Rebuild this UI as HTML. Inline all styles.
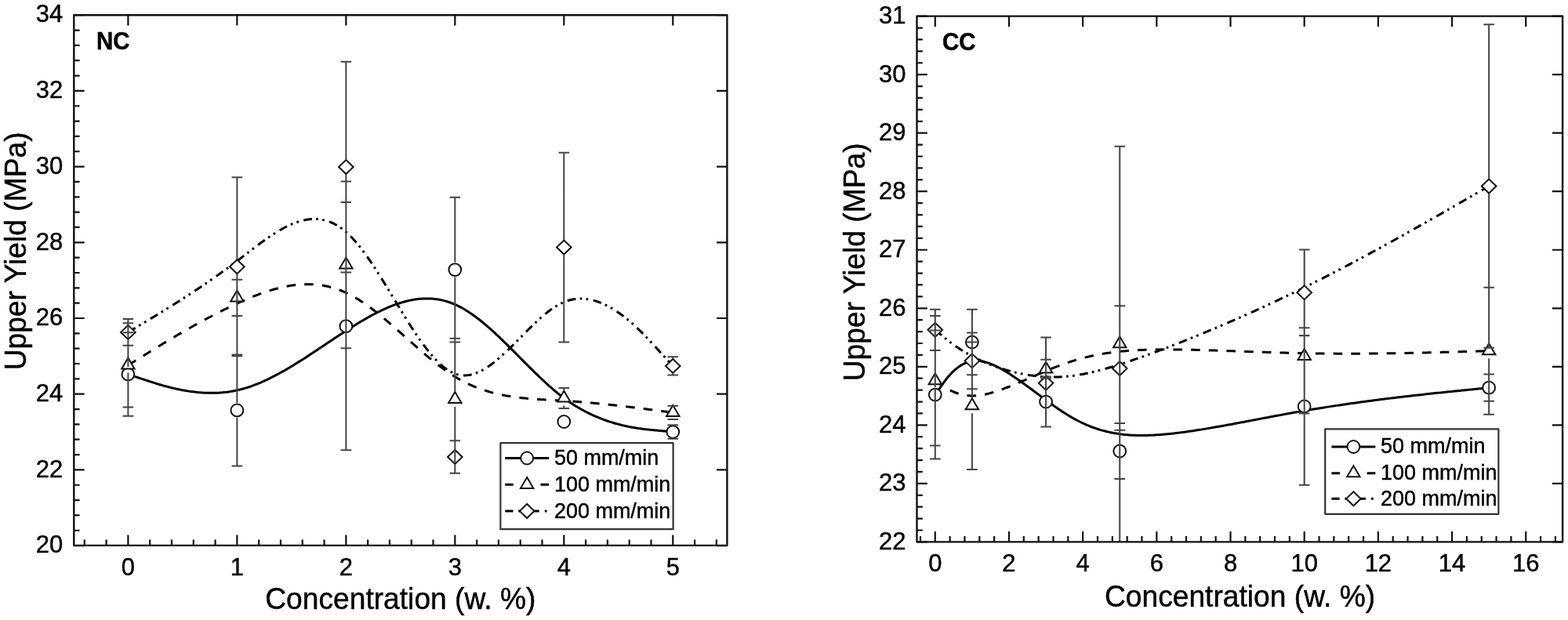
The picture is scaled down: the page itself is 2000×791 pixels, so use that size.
<!DOCTYPE html>
<html><head><meta charset="utf-8"><title>Upper Yield vs Concentration</title>
<style>
html,body{margin:0;padding:0;background:#fff;}
body{width:2000px;height:791px;overflow:hidden;}
svg{display:block;}
text{font-family:"Liberation Sans",Arial,Helvetica,sans-serif;fill:#000;stroke:#000;stroke-width:0.45px;}
.tk{font-size:31px;}
.ti{font-size:37.2px;}
.lg{font-size:27px;}
.pl{font-size:29.5px;font-weight:bold;}
.mk{fill:#fff;stroke:#111;stroke-width:2;stroke-linejoin:miter;}
</style></head><body>
<svg width="2000" height="791" viewBox="0 0 2000 791">
<rect width="2000" height="791" fill="#fff"/>
<polyline points="163.4,477.56 163.4,477.56 163.4,477.56 163.4,477.56 163.4,477.56 163.41,477.56 163.41,477.56 163.42,477.57 163.43,477.57 163.45,477.57 163.46,477.58 163.49,477.59 163.51,477.59 163.54,477.6 163.58,477.62 163.62,477.63 163.66,477.64 163.71,477.66 163.77,477.68 163.84,477.7 163.91,477.73 163.99,477.75 164.08,477.78 164.18,477.82 164.28,477.85 164.4,477.89 164.52,477.93 164.66,477.97 164.8,478.02 164.96,478.07 165.13,478.13 165.3,478.19 165.5,478.25 165.7,478.32 165.91,478.39 166.14,478.46 166.38,478.54 166.64,478.63 166.91,478.72 167.19,478.81 167.49,478.91 167.81,479.01 168.14,479.12 168.48,479.24 168.85,479.36 169.23,479.48 169.62,479.62 170.04,479.75 170.47,479.9 170.92,480.04 171.39,480.2 171.88,480.36 172.39,480.53 172.92,480.7 173.47,480.89 174.04,481.07 174.63,481.27 175.24,481.47 175.88,481.68 176.53,481.9 177.21,482.12 177.91,482.35 178.64,482.59 179.39,482.84 180.16,483.1 180.96,483.36 181.78,483.63 182.63,483.91 183.51,484.2 184.41,484.5 185.33,484.81 186.29,485.12 187.27,485.45 188.27,485.78 189.31,486.12 190.37,486.47 191.46,486.82 192.57,487.18 193.71,487.55 194.87,487.93 196.05,488.3 197.26,488.69 198.5,489.07 199.76,489.46 201.04,489.85 202.34,490.25 203.66,490.64 205.01,491.04 206.38,491.43 207.77,491.83 209.18,492.22 210.61,492.62 212.06,493.01 213.52,493.4 215.01,493.79 216.52,494.17 218.04,494.55 219.58,494.93 221.14,495.3 222.72,495.66 224.32,496.02 225.93,496.37 227.55,496.72 229.19,497.05 230.85,497.38 232.52,497.7 234.21,498.01 235.91,498.31 237.62,498.6 239.35,498.88 241.09,499.14 242.84,499.4 244.6,499.64 246.38,499.86 248.17,500.08 249.97,500.28 251.78,500.46 253.59,500.63 255.42,500.78 257.26,500.92 259.11,501.04 260.97,501.14 262.83,501.22 264.7,501.29 266.58,501.33 268.47,501.35 270.36,501.36 272.26,501.34 274.17,501.3 276.08,501.24 278,501.16 279.92,501.05 281.85,500.92 283.78,500.77 285.71,500.59 287.65,500.38 289.59,500.15 291.53,499.89 293.47,499.61 295.42,499.3 297.37,498.95 299.32,498.59 301.27,498.19 303.22,497.76 305.17,497.3 307.11,496.81 309.06,496.3 311.01,495.75 312.96,495.18 314.91,494.58 316.86,493.95 318.81,493.3 320.76,492.62 322.71,491.91 324.66,491.18 326.61,490.43 328.56,489.65 330.51,488.85 332.46,488.03 334.41,487.18 336.36,486.32 338.31,485.43 340.26,484.52 342.21,483.59 344.16,482.65 346.11,481.68 348.06,480.69 350.01,479.69 351.96,478.67 353.91,477.63 355.86,476.58 357.8,475.51 359.75,474.42 361.7,473.32 363.65,472.21 365.6,471.08 367.55,469.94 369.5,468.78 371.45,467.62 373.4,466.44 375.35,465.25 377.3,464.05 379.25,462.84 381.2,461.62 383.15,460.39 385.1,459.15 387.05,457.9 389,456.65 390.95,455.39 392.9,454.12 394.85,452.85 396.8,451.57 398.75,450.29 400.7,449 402.65,447.71 404.6,446.41 406.55,445.12 408.49,443.82 410.44,442.51 412.39,441.21 414.34,439.91 416.29,438.6 418.24,437.3 420.19,435.99 422.14,434.69 424.09,433.39 426.04,432.09 427.99,430.8 429.94,429.51 431.89,428.22 433.84,426.94 435.79,425.66 437.74,424.38 439.69,423.12 441.64,421.86 443.59,420.6 445.54,419.36 447.49,418.12 449.44,416.89 451.39,415.67 453.34,414.46 455.29,413.27 457.24,412.08 459.19,410.9 461.13,409.74 463.08,408.59 465.03,407.46 466.98,406.34 468.93,405.24 470.88,404.15 472.83,403.08 474.78,402.02 476.73,400.99 478.68,399.97 480.63,398.97 482.58,397.99 484.53,397.03 486.48,396.09 488.43,395.18 490.38,394.28 492.33,393.41 494.28,392.57 496.23,391.74 498.18,390.95 500.13,390.17 502.08,389.43 504.03,388.71 505.98,388.01 507.93,387.35 509.88,386.71 511.82,386.11 513.77,385.53 515.72,384.99 517.67,384.47 519.62,383.99 521.57,383.54 523.52,383.12 525.47,382.74 527.42,382.39 529.37,382.08 531.32,381.8 533.27,381.56 535.22,381.35 537.17,381.19 539.12,381.06 541.07,380.97 543.02,380.92 544.97,380.91 546.92,380.94 548.87,381.01 550.82,381.12 552.77,381.28 554.72,381.48 556.67,381.72 558.62,382.01 560.57,382.35 562.51,382.73 564.46,383.15 566.41,383.62 568.36,384.15 570.31,384.72 572.26,385.33 574.21,386 576.16,386.72 578.11,387.49 580.06,388.31 582.01,389.18 583.96,390.11 585.91,391.08 587.86,392.11 589.81,393.18 591.76,394.29 593.71,395.46 595.66,396.66 597.61,397.91 599.56,399.2 601.51,400.53 603.46,401.9 605.41,403.31 607.36,404.75 609.31,406.23 611.26,407.74 613.21,409.29 615.15,410.87 617.1,412.47 619.05,414.11 621,415.77 622.95,417.47 624.9,419.18 626.85,420.92 628.8,422.69 630.75,424.47 632.7,426.28 634.65,428.1 636.6,429.94 638.55,431.8 640.5,433.68 642.45,435.57 644.4,437.47 646.35,439.38 648.3,441.31 650.25,443.24 652.2,445.18 654.15,447.13 656.1,449.09 658.05,451.05 660,453.01 661.95,454.97 663.9,456.94 665.84,458.9 667.79,460.86 669.74,462.82 671.69,464.78 673.64,466.73 675.59,468.67 677.54,470.61 679.49,472.53 681.44,474.45 683.39,476.35 685.34,478.24 687.29,480.12 689.24,481.98 691.19,483.83 693.14,485.66 695.09,487.46 697.04,489.25 698.99,491.02 700.94,492.76 702.89,494.48 704.84,496.18 706.79,497.85 708.74,499.49 710.69,501.1 712.64,502.68 714.59,504.23 716.53,505.75 718.48,507.23 720.43,508.68 722.38,510.09 724.33,511.47 726.28,512.82 728.23,514.13 730.17,515.41 732.11,516.65 734.05,517.86 735.99,519.04 737.92,520.19 739.85,521.3 741.78,522.39 743.7,523.45 745.62,524.47 747.53,525.47 749.44,526.44 751.34,527.38 753.23,528.29 755.12,529.17 757,530.03 758.87,530.86 760.73,531.66 762.59,532.44 764.44,533.2 766.28,533.92 768.11,534.63 769.92,535.31 771.73,535.97 773.53,536.6 775.32,537.22 777.1,537.81 778.86,538.38 780.61,538.93 782.35,539.45 784.08,539.96 785.79,540.45 787.49,540.92 789.18,541.37 790.85,541.8 792.51,542.22 794.15,542.61 795.77,542.99 797.38,543.36 798.98,543.71 800.56,544.04 802.12,544.36 803.66,544.66 805.18,544.95 806.69,545.23 808.18,545.49 809.64,545.74 811.09,545.98 812.52,546.2 813.93,546.42 815.32,546.62 816.69,546.82 818.04,547 819.36,547.18 820.66,547.34 821.94,547.5 823.2,547.65 824.44,547.79 825.65,547.93 826.83,548.06 827.99,548.18 829.13,548.29 830.24,548.41 831.33,548.51 832.39,548.61 833.43,548.71 834.43,548.81 835.41,548.9 836.37,548.99 837.29,549.08 838.19,549.16 839.07,549.24 839.92,549.32 840.74,549.4 841.54,549.48 842.31,549.55 843.06,549.62 843.79,549.69 844.49,549.75 845.17,549.82 845.82,549.88 846.46,549.94 847.07,550 847.66,550.05 848.23,550.1 848.78,550.16 849.31,550.21 849.82,550.25 850.31,550.3 850.78,550.34 851.23,550.39 851.66,550.43 852.08,550.47 852.47,550.5 852.85,550.54 853.22,550.57 853.56,550.61 853.89,550.64 854.21,550.67 854.51,550.69 854.79,550.72 855.06,550.75 855.32,550.77 855.56,550.79 855.79,550.81 856,550.83 856.2,550.85 856.4,550.87 856.57,550.89 856.74,550.9 856.9,550.92 857.04,550.93 857.18,550.94 857.3,550.96 857.42,550.97 857.52,550.98 857.62,550.99 857.71,550.99 857.79,551 857.86,551.01 857.93,551.01 857.99,551.02 858.04,551.03 858.08,551.03 858.12,551.03 858.16,551.04 858.19,551.04 858.21,551.04 858.24,551.04 858.25,551.05 858.27,551.05 858.28,551.05 858.29,551.05 858.29,551.05 858.3,551.05 858.3,551.05 858.3,551.05 858.3,551.05 858.3,551.05" fill="none" stroke="#000" stroke-width="3"/>
<polyline points="163.4,465.95 163.4,465.95 163.4,465.95 163.4,465.95 163.4,465.95 163.41,465.95 163.41,465.95 163.42,465.94 163.43,465.93 163.45,465.93 163.46,465.91 163.49,465.9 163.51,465.89 163.54,465.87 163.58,465.85 163.62,465.82 163.66,465.79 163.71,465.76 163.77,465.72 163.84,465.68 163.91,465.64 163.99,465.59 164.08,465.53 164.18,465.47 164.28,465.41 164.4,465.34 164.52,465.26 164.66,465.17 164.8,465.08 164.96,464.99 165.13,464.88 165.3,464.77 165.5,464.66 165.7,464.53 165.91,464.4 166.14,464.26 166.38,464.11 166.64,463.95 166.91,463.78 167.19,463.61 167.49,463.42 167.81,463.22 168.14,463.02 168.48,462.81 168.85,462.58 169.23,462.35 169.62,462.1 170.04,461.84 170.47,461.57 170.92,461.3 171.39,461 171.88,460.7 172.39,460.39 172.92,460.06 173.47,459.72 174.04,459.37 174.63,459 175.24,458.62 175.88,458.23 176.53,457.82 177.21,457.4 177.91,456.97 178.64,456.52 179.39,456.05 180.16,455.57 180.96,455.08 181.78,454.57 182.63,454.04 183.51,453.5 184.41,452.95 185.33,452.37 186.29,451.78 187.27,451.17 188.27,450.55 189.31,449.91 190.37,449.25 191.46,448.58 192.57,447.9 193.71,447.19 194.87,446.48 196.05,445.75 197.26,445 198.5,444.24 199.76,443.47 201.04,442.69 202.34,441.89 203.66,441.09 205.01,440.27 206.38,439.43 207.77,438.59 209.18,437.74 210.61,436.88 212.06,436 213.52,435.12 215.01,434.23 216.52,433.33 218.04,432.42 219.58,431.51 221.14,430.58 222.72,429.65 224.32,428.71 225.93,427.77 227.55,426.81 229.19,425.86 230.85,424.89 232.52,423.93 234.21,422.95 235.91,421.98 237.62,420.99 239.35,420.01 241.09,419.02 242.84,418.03 244.6,417.03 246.38,416.04 248.17,415.04 249.97,414.04 251.78,413.04 253.59,412.04 255.42,411.03 257.26,410.03 259.11,409.03 260.97,408.02 262.83,407.02 264.7,406.02 266.58,405.02 268.47,404.03 270.36,403.03 272.26,402.04 274.17,401.05 276.08,400.07 278,399.09 279.92,398.11 281.85,397.14 283.78,396.17 285.71,395.21 287.65,394.25 289.59,393.3 291.53,392.36 293.47,391.42 295.42,390.49 297.37,389.56 299.32,388.65 301.27,387.74 303.22,386.84 305.17,385.95 307.11,385.07 309.06,384.2 311.01,383.34 312.96,382.49 314.91,381.65 316.86,380.82 318.81,380 320.76,379.2 322.71,378.41 324.66,377.64 326.61,376.87 328.56,376.13 330.51,375.39 332.46,374.68 334.41,373.97 336.36,373.29 338.31,372.62 340.26,371.97 342.21,371.34 344.16,370.72 346.11,370.13 348.06,369.55 350.01,368.99 351.96,368.45 353.91,367.94 355.86,367.44 357.8,366.97 359.75,366.52 361.7,366.09 363.65,365.68 365.6,365.3 367.55,364.94 369.5,364.6 371.45,364.29 373.4,364.01 375.35,363.75 377.3,363.51 379.25,363.31 381.2,363.13 383.15,362.97 385.1,362.85 387.05,362.76 389,362.69 390.95,362.65 392.9,362.65 394.85,362.67 396.8,362.72 398.75,362.81 400.7,362.93 402.65,363.08 404.6,363.26 406.55,363.48 408.49,363.72 410.44,364.01 412.39,364.33 414.34,364.68 416.29,365.07 418.24,365.49 420.19,365.96 422.14,366.45 424.09,366.99 426.04,367.56 427.99,368.18 429.94,368.83 431.89,369.52 433.84,370.25 435.79,371.02 437.74,371.83 439.69,372.68 441.64,373.57 443.59,374.51 445.54,375.49 447.49,376.5 449.44,377.56 451.39,378.65 453.34,379.78 455.29,380.94 457.24,382.14 459.19,383.38 461.13,384.64 463.08,385.94 465.03,387.26 466.98,388.62 468.93,390 470.88,391.41 472.83,392.85 474.78,394.31 476.73,395.79 478.68,397.3 480.63,398.83 482.58,400.38 484.53,401.95 486.48,403.53 488.43,405.14 490.38,406.76 492.33,408.4 494.28,410.05 496.23,411.71 498.18,413.39 500.13,415.07 502.08,416.77 504.03,418.47 505.98,420.19 507.93,421.9 509.88,423.63 511.82,425.36 513.77,427.09 515.72,428.83 517.67,430.56 519.62,432.3 521.57,434.04 523.52,435.77 525.47,437.5 527.42,439.23 529.37,440.95 531.32,442.67 533.27,444.38 535.22,446.08 537.17,447.77 539.12,449.45 541.07,451.12 543.02,452.78 544.97,454.42 546.92,456.05 548.87,457.66 550.82,459.26 552.77,460.83 554.72,462.39 556.67,463.93 558.62,465.45 560.57,466.95 562.51,468.42 564.46,469.87 566.41,471.29 568.36,472.69 570.31,474.05 572.26,475.4 574.21,476.71 576.16,477.99 578.11,479.23 580.06,480.45 582.01,481.63 583.96,482.78 585.91,483.89 587.86,484.98 589.81,486.03 591.76,487.05 593.71,488.03 595.66,488.99 597.61,489.92 599.56,490.82 601.51,491.69 603.46,492.53 605.41,493.34 607.36,494.13 609.31,494.89 611.26,495.62 613.21,496.33 615.15,497.01 617.1,497.67 619.05,498.3 621,498.91 622.95,499.5 624.9,500.07 626.85,500.61 628.8,501.13 630.75,501.63 632.7,502.12 634.65,502.58 636.6,503.02 638.55,503.44 640.5,503.85 642.45,504.23 644.4,504.6 646.35,504.96 648.3,505.3 650.25,505.62 652.2,505.93 654.15,506.22 656.1,506.5 658.05,506.76 660,507.02 661.95,507.26 663.9,507.49 665.84,507.7 667.79,507.91 669.74,508.11 671.69,508.29 673.64,508.47 675.59,508.64 677.54,508.8 679.49,508.95 681.44,509.1 683.39,509.24 685.34,509.38 687.29,509.51 689.24,509.63 691.19,509.75 693.14,509.87 695.09,509.98 697.04,510.09 698.99,510.2 700.94,510.3 702.89,510.41 704.84,510.51 706.79,510.62 708.74,510.72 710.69,510.83 712.64,510.93 714.59,511.04 716.53,511.16 718.48,511.27 720.43,511.39 722.38,511.51 724.33,511.64 726.28,511.77 728.23,511.9 730.17,512.04 732.11,512.18 734.05,512.33 735.99,512.47 737.92,512.62 739.85,512.77 741.78,512.93 743.7,513.09 745.62,513.25 747.53,513.41 749.44,513.58 751.34,513.75 753.23,513.91 755.12,514.09 757,514.26 758.87,514.44 760.73,514.61 762.59,514.79 764.44,514.97 766.28,515.16 768.11,515.34 769.92,515.52 771.73,515.71 773.53,515.9 775.32,516.08 777.1,516.27 778.86,516.46 780.61,516.65 782.35,516.84 784.08,517.03 785.79,517.22 787.49,517.41 789.18,517.6 790.85,517.79 792.51,517.98 794.15,518.18 795.77,518.36 797.38,518.55 798.98,518.74 800.56,518.93 802.12,519.12 803.66,519.31 805.18,519.49 806.69,519.68 808.18,519.86 809.64,520.04 811.09,520.22 812.52,520.4 813.93,520.58 815.32,520.75 816.69,520.93 818.04,521.1 819.36,521.27 820.66,521.43 821.94,521.6 823.2,521.76 824.44,521.92 825.65,522.08 826.83,522.24 827.99,522.39 829.13,522.54 830.24,522.68 831.33,522.83 832.39,522.97 833.43,523.1 834.43,523.24 835.41,523.37 836.37,523.49 837.29,523.61 838.19,523.73 839.07,523.85 839.92,523.96 840.74,524.07 841.54,524.18 842.31,524.28 843.06,524.38 843.79,524.47 844.49,524.57 845.17,524.66 845.82,524.74 846.46,524.83 847.07,524.91 847.66,524.99 848.23,525.06 848.78,525.13 849.31,525.2 849.82,525.27 850.31,525.33 850.78,525.4 851.23,525.46 851.66,525.51 852.08,525.57 852.47,525.62 852.85,525.67 853.22,525.72 853.56,525.77 853.89,525.81 854.21,525.85 854.51,525.89 854.79,525.93 855.06,525.96 855.32,526 855.56,526.03 855.79,526.06 856,526.09 856.2,526.11 856.4,526.14 856.57,526.16 856.74,526.19 856.9,526.21 857.04,526.23 857.18,526.24 857.3,526.26 857.42,526.27 857.52,526.29 857.62,526.3 857.71,526.31 857.79,526.32 857.86,526.33 857.93,526.34 857.99,526.35 858.04,526.36 858.08,526.36 858.12,526.37 858.16,526.37 858.19,526.38 858.21,526.38 858.24,526.38 858.25,526.39 858.27,526.39 858.28,526.39 858.29,526.39 858.29,526.39 858.3,526.39 858.3,526.39 858.3,526.39 858.3,526.39 858.3,526.39" fill="none" stroke="#000" stroke-width="3" stroke-dasharray="11.6 11.1"/>
<polyline points="163.4,423.89 163.4,423.89 163.4,423.89 163.4,423.89 163.4,423.89 163.41,423.88 163.41,423.88 163.42,423.88 163.43,423.87 163.45,423.86 163.46,423.85 163.49,423.84 163.51,423.82 163.54,423.8 163.58,423.78 163.62,423.76 163.66,423.73 163.71,423.7 163.77,423.67 163.84,423.63 163.91,423.58 163.99,423.53 164.08,423.48 164.18,423.42 164.28,423.36 164.4,423.29 164.52,423.21 164.66,423.13 164.8,423.04 164.96,422.95 165.13,422.85 165.3,422.74 165.5,422.63 165.7,422.51 165.91,422.38 166.14,422.24 166.38,422.09 166.64,421.94 166.91,421.78 167.19,421.61 167.49,421.43 167.81,421.24 168.14,421.04 168.48,420.83 168.85,420.61 169.23,420.38 169.62,420.14 170.04,419.89 170.47,419.63 170.92,419.36 171.39,419.08 171.88,418.78 172.39,418.48 172.92,418.16 173.47,417.83 174.04,417.49 174.63,417.13 175.24,416.76 175.88,416.38 176.53,415.99 177.21,415.58 177.91,415.15 178.64,414.72 179.39,414.27 180.16,413.8 180.96,413.32 181.78,412.83 182.63,412.31 183.51,411.79 184.41,411.25 185.33,410.69 186.29,410.12 187.27,409.53 188.27,408.92 189.31,408.3 190.37,407.66 191.46,407 192.57,406.33 193.71,405.64 194.87,404.94 196.05,404.22 197.26,403.49 198.5,402.74 199.76,401.98 201.04,401.2 202.34,400.4 203.66,399.59 205.01,398.77 206.38,397.93 207.77,397.08 209.18,396.21 210.61,395.33 212.06,394.43 213.52,393.52 215.01,392.59 216.52,391.65 218.04,390.7 219.58,389.73 221.14,388.75 222.72,387.76 224.32,386.75 225.93,385.73 227.55,384.7 229.19,383.65 230.85,382.59 232.52,381.52 234.21,380.44 235.91,379.34 237.62,378.23 239.35,377.11 241.09,375.97 242.84,374.82 244.6,373.67 246.38,372.49 248.17,371.31 249.97,370.12 251.78,368.91 253.59,367.69 255.42,366.46 257.26,365.22 259.11,363.97 260.97,362.71 262.83,361.44 264.7,360.15 266.58,358.86 268.47,357.55 270.36,356.23 272.26,354.91 274.17,353.57 276.08,352.22 278,350.87 279.92,349.5 281.85,348.12 283.78,346.74 285.71,345.34 287.65,343.93 289.59,342.52 291.53,341.09 293.47,339.66 295.42,338.22 297.37,336.76 299.32,335.3 301.27,333.84 303.22,332.36 305.17,330.87 307.11,329.38 309.06,327.88 311.01,326.38 312.96,324.88 314.91,323.38 316.86,321.87 318.81,320.37 320.76,318.88 322.71,317.39 324.66,315.91 326.61,314.43 328.56,312.97 330.51,311.51 332.46,310.07 334.41,308.65 336.36,307.24 338.31,305.85 340.26,304.47 342.21,303.12 344.16,301.79 346.11,300.48 348.06,299.2 350.01,297.94 351.96,296.71 353.91,295.51 355.86,294.35 357.8,293.21 359.75,292.11 361.7,291.04 363.65,290.01 365.6,289.02 367.55,288.07 369.5,287.16 371.45,286.29 373.4,285.47 375.35,284.69 377.3,283.96 379.25,283.28 381.2,282.65 383.15,282.07 385.1,281.54 387.05,281.07 389,280.66 390.95,280.3 392.9,280 394.85,279.77 396.8,279.59 398.75,279.48 400.7,279.43 402.65,279.45 404.6,279.54 406.55,279.7 408.49,279.93 410.44,280.23 412.39,280.61 414.34,281.06 416.29,281.59 418.24,282.2 420.19,282.89 422.14,283.66 424.09,284.51 426.04,285.45 427.99,286.47 429.94,287.58 431.89,288.78 433.84,290.07 435.79,291.45 437.74,292.93 439.69,294.5 441.64,296.17 443.59,297.93 445.54,299.79 447.49,301.74 449.44,303.78 451.39,305.9 453.34,308.11 455.29,310.39 457.24,312.75 459.19,315.18 461.13,317.68 463.08,320.24 465.03,322.87 466.98,325.56 468.93,328.31 470.88,331.1 472.83,333.95 474.78,336.85 476.73,339.79 478.68,342.77 480.63,345.79 482.58,348.85 484.53,351.93 486.48,355.05 488.43,358.19 490.38,361.35 492.33,364.53 494.28,367.73 496.23,370.94 498.18,374.16 500.13,377.38 502.08,380.61 504.03,383.84 505.98,387.07 507.93,390.29 509.88,393.5 511.82,396.7 513.77,399.88 515.72,403.05 517.67,406.19 519.62,409.31 521.57,412.4 523.52,415.46 525.47,418.49 527.42,421.48 529.37,424.43 531.32,427.33 533.27,430.19 535.22,433 537.17,435.76 539.12,438.46 541.07,441.1 543.02,443.67 544.97,446.19 546.92,448.63 548.87,451 550.82,453.3 552.77,455.52 554.72,457.66 556.67,459.71 558.62,461.68 560.57,463.55 562.51,465.34 564.46,467.02 566.41,468.61 568.36,470.09 570.31,471.47 572.26,472.73 574.21,473.89 576.16,474.93 578.11,475.85 580.06,476.65 582.01,477.32 583.96,477.87 585.91,478.31 587.86,478.62 589.81,478.82 591.76,478.91 593.71,478.89 595.66,478.77 597.61,478.54 599.56,478.21 601.51,477.79 603.46,477.27 605.41,476.66 607.36,475.97 609.31,475.19 611.26,474.32 613.21,473.38 615.15,472.36 617.1,471.27 619.05,470.11 621,468.88 622.95,467.58 624.9,466.23 626.85,464.81 628.8,463.34 630.75,461.82 632.7,460.25 634.65,458.63 636.6,456.96 638.55,455.25 640.5,453.51 642.45,451.73 644.4,449.92 646.35,448.07 648.3,446.21 650.25,444.31 652.2,442.4 654.15,440.47 656.1,438.52 658.05,436.56 660,434.59 661.95,432.62 663.9,430.64 665.84,428.66 667.79,426.69 669.74,424.72 671.69,422.76 673.64,420.81 675.59,418.87 677.54,416.95 679.49,415.05 681.44,413.17 683.39,411.32 685.34,409.5 687.29,407.71 689.24,405.95 691.19,404.23 693.14,402.55 695.09,400.92 697.04,399.33 698.99,397.79 700.94,396.3 702.89,394.87 704.84,393.49 706.79,392.18 708.74,390.93 710.69,389.74 712.64,388.63 714.59,387.58 716.53,386.62 718.48,385.73 720.43,384.92 722.38,384.19 724.33,383.55 726.28,382.98 728.23,382.49 730.17,382.07 732.11,381.73 734.05,381.46 735.99,381.26 737.92,381.12 739.85,381.06 741.78,381.06 743.7,381.13 745.62,381.26 747.53,381.45 749.44,381.7 751.34,382 753.23,382.37 755.12,382.78 757,383.26 758.87,383.78 760.73,384.35 762.59,384.97 764.44,385.64 766.28,386.35 768.11,387.11 769.92,387.91 771.73,388.75 773.53,389.63 775.32,390.55 777.1,391.5 778.86,392.49 780.61,393.5 782.35,394.56 784.08,395.64 785.79,396.74 787.49,397.88 789.18,399.04 790.85,400.22 792.51,401.42 794.15,402.65 795.77,403.89 797.38,405.15 798.98,406.43 800.56,407.72 802.12,409.02 803.66,410.33 805.18,411.65 806.69,412.98 808.18,414.31 809.64,415.65 811.09,416.99 812.52,418.34 813.93,419.68 815.32,421.02 816.69,422.36 818.04,423.69 819.36,425.02 820.66,426.33 821.94,427.64 823.2,428.94 824.44,430.22 825.65,431.49 826.83,432.74 827.99,433.98 829.13,435.2 830.24,436.39 831.33,437.56 832.39,438.71 833.43,439.84 834.43,440.93 835.41,442 836.37,443.04 837.29,444.05 838.19,445.03 839.07,445.98 839.92,446.9 840.74,447.8 841.54,448.67 842.31,449.51 843.06,450.33 843.79,451.12 844.49,451.88 845.17,452.62 845.82,453.34 846.46,454.03 847.07,454.69 847.66,455.34 848.23,455.96 848.78,456.56 849.31,457.13 849.82,457.68 850.31,458.22 850.78,458.73 851.23,459.22 851.66,459.69 852.08,460.14 852.47,460.58 852.85,460.99 853.22,461.39 853.56,461.76 853.89,462.12 854.21,462.46 854.51,462.79 854.79,463.1 855.06,463.39 855.32,463.67 855.56,463.94 855.79,464.18 856,464.42 856.2,464.64 856.4,464.85 856.57,465.04 856.74,465.22 856.9,465.39 857.04,465.55 857.18,465.7 857.3,465.83 857.42,465.96 857.52,466.07 857.62,466.18 857.71,466.28 857.79,466.36 857.86,466.44 857.93,466.51 857.99,466.58 858.04,466.64 858.08,466.69 858.12,466.73 858.16,466.77 858.19,466.8 858.21,466.83 858.24,466.85 858.25,466.87 858.27,466.89 858.28,466.9 858.29,466.91 858.29,466.91 858.3,466.92 858.3,466.92 858.3,466.92 858.3,466.92 858.3,466.92" fill="none" stroke="#000" stroke-width="3" stroke-dasharray="10.8 5.3 2.7 5.3 2.7 6.5"/>
<polyline points="1192.8,503.58 1192.8,503.58 1192.8,503.58 1192.8,503.58 1192.8,503.58 1192.8,503.58 1192.8,503.58 1192.81,503.57 1192.81,503.57 1192.82,503.56 1192.82,503.55 1192.83,503.54 1192.84,503.53 1192.85,503.52 1192.86,503.5 1192.87,503.48 1192.89,503.46 1192.91,503.43 1192.93,503.4 1192.95,503.37 1192.97,503.34 1193,503.3 1193.03,503.26 1193.06,503.21 1193.1,503.16 1193.14,503.1 1193.18,503.04 1193.23,502.98 1193.28,502.91 1193.33,502.83 1193.38,502.75 1193.45,502.67 1193.51,502.57 1193.58,502.48 1193.65,502.37 1193.73,502.26 1193.81,502.14 1193.9,502.02 1193.99,501.89 1194.09,501.75 1194.19,501.61 1194.29,501.46 1194.41,501.3 1194.52,501.13 1194.65,500.96 1194.77,500.77 1194.91,500.58 1195.05,500.38 1195.2,500.17 1195.35,499.95 1195.51,499.73 1195.67,499.49 1195.85,499.25 1196.03,498.99 1196.21,498.72 1196.4,498.45 1196.6,498.16 1196.81,497.87 1197.03,497.56 1197.25,497.25 1197.48,496.92 1197.72,496.58 1197.96,496.23 1198.22,495.87 1198.48,495.49 1198.75,495.11 1199.03,494.71 1199.32,494.3 1199.61,493.88 1199.92,493.45 1200.23,493 1200.55,492.54 1200.89,492.07 1201.23,491.58 1201.58,491.08 1201.94,490.57 1202.31,490.05 1202.69,489.52 1203.07,488.98 1203.47,488.43 1203.88,487.87 1204.29,487.3 1204.72,486.73 1205.15,486.14 1205.6,485.55 1206.05,484.96 1206.51,484.36 1206.98,483.76 1207.46,483.15 1207.95,482.54 1208.45,481.92 1208.96,481.31 1209.48,480.69 1210.01,480.07 1210.54,479.45 1211.09,478.83 1211.64,478.21 1212.21,477.59 1212.78,476.97 1213.36,476.36 1213.95,475.74 1214.55,475.13 1215.16,474.53 1215.78,473.93 1216.41,473.34 1217.05,472.75 1217.7,472.16 1218.35,471.59 1219.02,471.02 1219.7,470.46 1220.38,469.91 1221.07,469.37 1221.78,468.84 1222.49,468.31 1223.21,467.8 1223.94,467.3 1224.68,466.82 1225.43,466.34 1226.19,465.88 1226.96,465.43 1227.73,465 1228.52,464.58 1229.32,464.18 1230.12,463.8 1230.93,463.43 1231.76,463.08 1232.59,462.74 1233.43,462.43 1234.28,462.13 1235.14,461.86 1236.01,461.6 1236.89,461.37 1237.78,461.15 1238.68,460.96 1239.59,460.79 1240.5,460.65 1241.43,460.53 1242.36,460.43 1243.31,460.36 1244.26,460.31 1245.22,460.29 1246.19,460.29 1247.17,460.33 1248.16,460.39 1249.16,460.48 1250.17,460.59 1251.19,460.73 1252.22,460.9 1253.25,461.1 1254.29,461.32 1255.35,461.57 1256.41,461.84 1257.47,462.14 1258.55,462.46 1259.64,462.81 1260.73,463.17 1261.83,463.56 1262.93,463.98 1264.05,464.41 1265.17,464.87 1266.3,465.35 1267.44,465.85 1268.58,466.36 1269.73,466.9 1270.89,467.46 1272.05,468.04 1273.22,468.63 1274.39,469.24 1275.57,469.88 1276.76,470.52 1277.96,471.19 1279.15,471.87 1280.36,472.57 1281.57,473.28 1282.78,474.01 1284,474.75 1285.23,475.5 1286.46,476.27 1287.7,477.06 1288.94,477.85 1290.18,478.66 1291.43,479.48 1292.68,480.32 1293.94,481.16 1295.2,482.01 1296.47,482.88 1297.73,483.75 1299.01,484.64 1300.28,485.53 1301.56,486.43 1302.85,487.34 1304.13,488.26 1305.42,489.18 1306.71,490.11 1308.01,491.05 1309.3,492 1310.6,492.94 1311.9,493.9 1313.21,494.86 1314.51,495.82 1315.82,496.79 1317.13,497.76 1318.44,498.73 1319.75,499.71 1321.07,500.69 1322.38,501.67 1323.7,502.65 1325.02,503.63 1326.34,504.61 1327.66,505.6 1328.98,506.58 1330.3,507.56 1331.62,508.54 1332.94,509.52 1334.26,510.49 1335.58,511.47 1336.9,512.44 1338.22,513.4 1339.55,514.37 1340.87,515.33 1342.2,516.28 1343.53,517.23 1344.86,518.18 1346.2,519.12 1347.54,520.06 1348.88,520.99 1350.23,521.92 1351.58,522.83 1352.94,523.75 1354.3,524.65 1355.67,525.55 1357.05,526.44 1358.43,527.33 1359.82,528.2 1361.21,529.07 1362.62,529.93 1364.03,530.78 1365.45,531.62 1366.88,532.45 1368.32,533.27 1369.77,534.09 1371.23,534.89 1372.7,535.68 1374.18,536.46 1375.67,537.23 1377.18,537.99 1378.69,538.73 1380.22,539.47 1381.77,540.19 1383.32,540.9 1384.89,541.59 1386.47,542.27 1388.07,542.94 1389.68,543.6 1391.31,544.24 1392.95,544.87 1394.61,545.48 1396.29,546.08 1397.98,546.66 1399.69,547.22 1401.42,547.77 1403.16,548.31 1404.93,548.83 1406.71,549.33 1408.51,549.81 1410.33,550.28 1412.17,550.73 1414.04,551.16 1415.92,551.57 1417.82,551.96 1419.75,552.34 1421.69,552.69 1423.66,553.03 1425.65,553.35 1427.67,553.64 1429.71,553.92 1431.77,554.18 1433.85,554.41 1435.97,554.62 1438.1,554.82 1440.26,554.99 1442.45,555.13 1444.66,555.26 1446.9,555.36 1449.17,555.44 1451.46,555.5 1453.79,555.53 1456.14,555.54 1458.51,555.53 1460.92,555.5 1463.35,555.44 1465.8,555.36 1468.28,555.26 1470.79,555.14 1473.32,555 1475.87,554.84 1478.45,554.66 1481.05,554.46 1483.68,554.24 1486.33,554.01 1489,553.75 1491.69,553.48 1494.41,553.19 1497.14,552.89 1499.9,552.57 1502.68,552.23 1505.47,551.88 1508.29,551.52 1511.13,551.14 1513.98,550.74 1516.86,550.33 1519.75,549.91 1522.66,549.48 1525.58,549.03 1528.53,548.58 1531.49,548.11 1534.46,547.63 1537.46,547.14 1540.46,546.63 1543.48,546.12 1546.52,545.6 1549.57,545.08 1552.64,544.54 1555.72,543.99 1558.81,543.44 1561.91,542.88 1565.03,542.31 1568.16,541.74 1571.3,541.16 1574.45,540.58 1577.61,539.99 1580.78,539.39 1583.96,538.79 1587.15,538.19 1590.35,537.59 1593.56,536.98 1596.78,536.37 1600.01,535.75 1603.24,535.14 1606.48,534.52 1609.73,533.9 1612.98,533.29 1616.24,532.67 1619.5,532.05 1622.77,531.44 1626.05,530.82 1629.33,530.21 1632.61,529.6 1635.9,528.99 1639.19,528.38 1642.48,527.78 1645.78,527.18 1649.08,526.59 1652.38,526 1655.68,525.41 1658.98,524.83 1662.28,524.26 1665.59,523.69 1668.89,523.13 1672.19,522.58 1675.49,522.03 1678.79,521.49 1682.08,520.96 1685.37,520.43 1688.66,519.91 1691.94,519.39 1695.22,518.88 1698.49,518.38 1701.75,517.89 1705.01,517.39 1708.25,516.91 1711.49,516.43 1714.72,515.96 1717.94,515.5 1721.15,515.04 1724.35,514.58 1727.53,514.14 1730.7,513.69 1733.86,513.26 1737.01,512.83 1740.14,512.41 1743.25,511.99 1746.35,511.58 1749.43,511.17 1752.5,510.77 1755.54,510.38 1758.57,509.99 1761.58,509.61 1764.57,509.23 1767.54,508.86 1770.48,508.49 1773.41,508.13 1776.31,507.78 1779.19,507.43 1782.05,507.09 1784.88,506.75 1787.69,506.42 1790.47,506.09 1793.22,505.77 1795.95,505.46 1798.65,505.15 1801.32,504.84 1803.97,504.54 1806.58,504.25 1809.16,503.96 1811.71,503.68 1814.23,503.4 1816.72,503.13 1819.18,502.86 1821.6,502.6 1823.99,502.34 1826.34,502.09 1828.66,501.84 1830.94,501.6 1833.18,501.36 1835.39,501.13 1837.56,500.9 1839.69,500.68 1841.78,500.47 1843.83,500.25 1845.84,500.05 1847.81,499.85 1849.74,499.65 1851.62,499.46 1853.46,499.27 1855.26,499.09 1857.01,498.91 1858.72,498.74 1860.38,498.57 1861.99,498.4 1863.56,498.25 1865.09,498.09 1866.57,497.94 1868.01,497.8 1869.4,497.65 1870.75,497.52 1872.06,497.38 1873.33,497.26 1874.56,497.13 1875.75,497.01 1876.9,496.89 1878.01,496.78 1879.09,496.67 1880.13,496.57 1881.13,496.47 1882.09,496.37 1883.02,496.27 1883.92,496.18 1884.78,496.1 1885.61,496.01 1886.41,495.93 1887.17,495.85 1887.9,495.78 1888.61,495.71 1889.28,495.64 1889.92,495.58 1890.54,495.51 1891.12,495.45 1891.68,495.4 1892.22,495.34 1892.72,495.29 1893.21,495.24 1893.66,495.2 1894.1,495.15 1894.51,495.11 1894.89,495.07 1895.26,495.04 1895.6,495 1895.92,494.97 1896.23,494.94 1896.51,494.91 1896.77,494.88 1897.02,494.86 1897.25,494.83 1897.46,494.81 1897.65,494.79 1897.83,494.77 1898,494.76 1898.15,494.74 1898.28,494.73 1898.41,494.72 1898.52,494.7 1898.62,494.69 1898.71,494.69 1898.78,494.68 1898.85,494.67 1898.91,494.66 1898.96,494.66 1899.01,494.66 1899.04,494.65 1899.07,494.65 1899.09,494.65 1899.11,494.64 1899.13,494.64 1899.14,494.64 1899.14,494.64 1899.15,494.64 1899.15,494.64 1899.15,494.64 1899.15,494.64" fill="none" stroke="#000" stroke-width="3"/>
<polyline points="1192.8,485.7 1192.8,485.7 1192.8,485.7 1192.8,485.7 1192.8,485.7 1192.8,485.7 1192.8,485.7 1192.81,485.7 1192.81,485.7 1192.82,485.71 1192.82,485.71 1192.83,485.72 1192.84,485.72 1192.85,485.73 1192.86,485.74 1192.87,485.75 1192.89,485.76 1192.91,485.77 1192.93,485.78 1192.95,485.8 1192.97,485.82 1193,485.83 1193.03,485.85 1193.06,485.88 1193.1,485.9 1193.14,485.93 1193.18,485.96 1193.23,485.99 1193.28,486.02 1193.33,486.06 1193.38,486.1 1193.45,486.14 1193.51,486.18 1193.58,486.23 1193.65,486.28 1193.73,486.33 1193.81,486.39 1193.9,486.44 1193.99,486.51 1194.09,486.57 1194.19,486.64 1194.29,486.71 1194.41,486.79 1194.52,486.87 1194.65,486.95 1194.77,487.04 1194.91,487.13 1195.05,487.23 1195.2,487.33 1195.35,487.43 1195.51,487.54 1195.67,487.65 1195.85,487.77 1196.03,487.89 1196.21,488.02 1196.4,488.15 1196.6,488.29 1196.81,488.43 1197.03,488.57 1197.25,488.73 1197.48,488.88 1197.72,489.04 1197.96,489.21 1198.22,489.38 1198.48,489.56 1198.75,489.75 1199.03,489.94 1199.32,490.13 1199.61,490.33 1199.92,490.54 1200.23,490.75 1200.55,490.97 1200.89,491.2 1201.23,491.43 1201.58,491.67 1201.94,491.91 1202.31,492.16 1202.69,492.42 1203.07,492.67 1203.47,492.94 1203.88,493.2 1204.29,493.47 1204.72,493.75 1205.15,494.02 1205.6,494.3 1206.05,494.58 1206.51,494.87 1206.98,495.15 1207.46,495.44 1207.95,495.73 1208.45,496.01 1208.96,496.3 1209.48,496.59 1210.01,496.88 1210.54,497.17 1211.09,497.46 1211.64,497.75 1212.21,498.04 1212.78,498.32 1213.36,498.6 1213.95,498.88 1214.55,499.16 1215.16,499.44 1215.78,499.71 1216.41,499.98 1217.05,500.24 1217.7,500.5 1218.35,500.76 1219.02,501.01 1219.7,501.26 1220.38,501.5 1221.07,501.74 1221.78,501.97 1222.49,502.19 1223.21,502.41 1223.94,502.62 1224.68,502.83 1225.43,503.02 1226.19,503.21 1226.96,503.39 1227.73,503.57 1228.52,503.73 1229.32,503.88 1230.12,504.03 1230.93,504.17 1231.76,504.29 1232.59,504.41 1233.43,504.51 1234.28,504.61 1235.14,504.69 1236.01,504.77 1236.89,504.83 1237.78,504.88 1238.68,504.91 1239.59,504.94 1240.5,504.95 1241.43,504.94 1242.36,504.93 1243.31,504.9 1244.26,504.85 1245.22,504.8 1246.19,504.72 1247.17,504.64 1248.16,504.53 1249.16,504.41 1250.17,504.28 1251.19,504.13 1252.22,503.97 1253.25,503.79 1254.29,503.6 1255.35,503.39 1256.41,503.17 1257.47,502.94 1258.55,502.69 1259.64,502.43 1260.73,502.16 1261.83,501.88 1262.93,501.58 1264.05,501.27 1265.17,500.95 1266.3,500.62 1267.44,500.28 1268.58,499.93 1269.73,499.57 1270.89,499.19 1272.05,498.81 1273.22,498.42 1274.39,498.02 1275.57,497.6 1276.76,497.18 1277.96,496.75 1279.15,496.32 1280.36,495.87 1281.57,495.42 1282.78,494.96 1284,494.49 1285.23,494.01 1286.46,493.53 1287.7,493.04 1288.94,492.54 1290.18,492.04 1291.43,491.53 1292.68,491.02 1293.94,490.5 1295.2,489.98 1296.47,489.45 1297.73,488.92 1299.01,488.38 1300.28,487.84 1301.56,487.29 1302.85,486.74 1304.13,486.19 1305.42,485.64 1306.71,485.08 1308.01,484.52 1309.3,483.96 1310.6,483.39 1311.9,482.83 1313.21,482.26 1314.51,481.69 1315.82,481.12 1317.13,480.55 1318.44,479.98 1319.75,479.41 1321.07,478.84 1322.38,478.27 1323.7,477.7 1325.02,477.13 1326.34,476.56 1327.66,476 1328.98,475.43 1330.3,474.87 1331.62,474.31 1332.94,473.75 1334.26,473.2 1335.58,472.64 1336.9,472.1 1338.22,471.55 1339.55,471.01 1340.87,470.47 1342.2,469.93 1343.53,469.4 1344.86,468.87 1346.2,468.34 1347.54,467.82 1348.88,467.3 1350.23,466.79 1351.58,466.28 1352.94,465.77 1354.3,465.27 1355.67,464.78 1357.05,464.28 1358.43,463.8 1359.82,463.31 1361.21,462.83 1362.62,462.36 1364.03,461.89 1365.45,461.42 1366.88,460.96 1368.32,460.51 1369.77,460.06 1371.23,459.62 1372.7,459.18 1374.18,458.75 1375.67,458.32 1377.18,457.9 1378.69,457.48 1380.22,457.07 1381.77,456.67 1383.32,456.27 1384.89,455.88 1386.47,455.49 1388.07,455.11 1389.68,454.74 1391.31,454.37 1392.95,454.01 1394.61,453.66 1396.29,453.31 1397.98,452.97 1399.69,452.64 1401.42,452.31 1403.16,451.99 1404.93,451.68 1406.71,451.38 1408.51,451.08 1410.33,450.79 1412.17,450.51 1414.04,450.23 1415.92,449.97 1417.82,449.71 1419.75,449.46 1421.69,449.22 1423.66,448.98 1425.65,448.75 1427.67,448.54 1429.71,448.33 1431.77,448.13 1433.85,447.93 1435.97,447.75 1438.1,447.57 1440.26,447.41 1442.45,447.25 1444.66,447.1 1446.9,446.96 1449.17,446.83 1451.46,446.71 1453.79,446.6 1456.14,446.5 1458.51,446.4 1460.92,446.32 1463.35,446.24 1465.8,446.17 1468.28,446.11 1470.79,446.06 1473.32,446.02 1475.87,445.98 1478.45,445.96 1481.05,445.94 1483.68,445.92 1486.33,445.91 1489,445.91 1491.69,445.92 1494.41,445.93 1497.14,445.95 1499.9,445.98 1502.68,446.01 1505.47,446.04 1508.29,446.09 1511.13,446.13 1513.98,446.18 1516.86,446.24 1519.75,446.3 1522.66,446.37 1525.58,446.43 1528.53,446.51 1531.49,446.59 1534.46,446.67 1537.46,446.75 1540.46,446.84 1543.48,446.93 1546.52,447.02 1549.57,447.12 1552.64,447.22 1555.72,447.32 1558.81,447.42 1561.91,447.52 1565.03,447.63 1568.16,447.74 1571.3,447.85 1574.45,447.96 1577.61,448.07 1580.78,448.18 1583.96,448.29 1587.15,448.41 1590.35,448.52 1593.56,448.63 1596.78,448.74 1600.01,448.86 1603.24,448.97 1606.48,449.08 1609.73,449.19 1612.98,449.29 1616.24,449.4 1619.5,449.51 1622.77,449.61 1626.05,449.71 1629.33,449.81 1632.61,449.91 1635.9,450 1639.19,450.09 1642.48,450.18 1645.78,450.27 1649.08,450.35 1652.38,450.43 1655.68,450.5 1658.98,450.57 1662.28,450.64 1665.59,450.7 1668.89,450.76 1672.19,450.82 1675.49,450.86 1678.79,450.91 1682.08,450.95 1685.37,450.99 1688.66,451.02 1691.94,451.05 1695.22,451.08 1698.49,451.1 1701.75,451.12 1705.01,451.14 1708.25,451.15 1711.49,451.16 1714.72,451.16 1717.94,451.16 1721.15,451.16 1724.35,451.16 1727.53,451.15 1730.7,451.14 1733.86,451.13 1737.01,451.12 1740.14,451.1 1743.25,451.08 1746.35,451.06 1749.43,451.03 1752.5,451.01 1755.54,450.98 1758.57,450.95 1761.58,450.91 1764.57,450.88 1767.54,450.84 1770.48,450.8 1773.41,450.76 1776.31,450.72 1779.19,450.67 1782.05,450.63 1784.88,450.58 1787.69,450.53 1790.47,450.49 1793.22,450.43 1795.95,450.38 1798.65,450.33 1801.32,450.28 1803.97,450.22 1806.58,450.17 1809.16,450.11 1811.71,450.06 1814.23,450 1816.72,449.94 1819.18,449.89 1821.6,449.83 1823.99,449.77 1826.34,449.71 1828.66,449.66 1830.94,449.6 1833.18,449.54 1835.39,449.48 1837.56,449.43 1839.69,449.37 1841.78,449.31 1843.83,449.26 1845.84,449.2 1847.81,449.15 1849.74,449.09 1851.62,449.04 1853.46,448.99 1855.26,448.94 1857.01,448.89 1858.72,448.84 1860.38,448.79 1861.99,448.75 1863.56,448.7 1865.09,448.66 1866.57,448.62 1868.01,448.57 1869.4,448.53 1870.75,448.5 1872.06,448.46 1873.33,448.42 1874.56,448.39 1875.75,448.35 1876.9,448.32 1878.01,448.29 1879.09,448.26 1880.13,448.23 1881.13,448.2 1882.09,448.17 1883.02,448.15 1883.92,448.12 1884.78,448.1 1885.61,448.07 1886.41,448.05 1887.17,448.03 1887.9,448.01 1888.61,447.99 1889.28,447.97 1889.92,447.95 1890.54,447.93 1891.12,447.92 1891.68,447.9 1892.22,447.88 1892.72,447.87 1893.21,447.86 1893.66,447.84 1894.1,447.83 1894.51,447.82 1894.89,447.81 1895.26,447.8 1895.6,447.79 1895.92,447.78 1896.23,447.77 1896.51,447.76 1896.77,447.75 1897.02,447.75 1897.25,447.74 1897.46,447.74 1897.65,447.73 1897.83,447.72 1898,447.72 1898.15,447.72 1898.28,447.71 1898.41,447.71 1898.52,447.7 1898.62,447.7 1898.71,447.7 1898.78,447.7 1898.85,447.7 1898.91,447.69 1898.96,447.69 1899.01,447.69 1899.04,447.69 1899.07,447.69 1899.09,447.69 1899.11,447.69 1899.13,447.69 1899.14,447.69 1899.14,447.69 1899.15,447.69 1899.15,447.69 1899.15,447.69 1899.15,447.69" fill="none" stroke="#000" stroke-width="3" stroke-dasharray="11.6 11.1"/>
<polyline points="1192.8,420.86 1192.8,420.86 1192.8,420.86 1192.8,420.86 1192.8,420.86 1192.8,420.86 1192.8,420.86 1192.81,420.86 1192.81,420.87 1192.82,420.87 1192.82,420.87 1192.83,420.88 1192.84,420.89 1192.85,420.9 1192.86,420.91 1192.87,420.92 1192.89,420.93 1192.91,420.95 1192.93,420.96 1192.95,420.98 1192.97,421 1193,421.02 1193.03,421.05 1193.06,421.08 1193.1,421.11 1193.14,421.14 1193.18,421.18 1193.23,421.21 1193.28,421.26 1193.33,421.3 1193.38,421.35 1193.45,421.4 1193.51,421.45 1193.58,421.51 1193.65,421.57 1193.73,421.64 1193.81,421.7 1193.9,421.78 1193.99,421.85 1194.09,421.93 1194.19,422.02 1194.29,422.11 1194.41,422.2 1194.52,422.3 1194.65,422.4 1194.77,422.51 1194.91,422.63 1195.05,422.74 1195.2,422.87 1195.35,422.99 1195.51,423.13 1195.67,423.27 1195.85,423.41 1196.03,423.56 1196.21,423.72 1196.4,423.88 1196.6,424.05 1196.81,424.22 1197.03,424.4 1197.25,424.59 1197.48,424.78 1197.72,424.98 1197.96,425.19 1198.22,425.4 1198.48,425.62 1198.75,425.85 1199.03,426.08 1199.32,426.32 1199.61,426.57 1199.92,426.83 1200.23,427.09 1200.55,427.36 1200.89,427.64 1201.23,427.93 1201.58,428.22 1201.94,428.52 1202.31,428.83 1202.69,429.15 1203.07,429.47 1203.47,429.8 1203.88,430.13 1204.29,430.48 1204.72,430.83 1205.15,431.18 1205.6,431.54 1206.05,431.91 1206.51,432.28 1206.98,432.66 1207.46,433.05 1207.95,433.44 1208.45,433.83 1208.96,434.23 1209.48,434.64 1210.01,435.05 1210.54,435.46 1211.09,435.88 1211.64,436.31 1212.21,436.74 1212.78,437.17 1213.36,437.61 1213.95,438.05 1214.55,438.49 1215.16,438.94 1215.78,439.39 1216.41,439.85 1217.05,440.3 1217.7,440.77 1218.35,441.23 1219.02,441.7 1219.7,442.17 1220.38,442.64 1221.07,443.11 1221.78,443.59 1222.49,444.07 1223.21,444.55 1223.94,445.03 1224.68,445.51 1225.43,446 1226.19,446.49 1226.96,446.97 1227.73,447.46 1228.52,447.95 1229.32,448.45 1230.12,448.94 1230.93,449.43 1231.76,449.92 1232.59,450.41 1233.43,450.91 1234.28,451.4 1235.14,451.89 1236.01,452.39 1236.89,452.88 1237.78,453.37 1238.68,453.86 1239.59,454.35 1240.5,454.84 1241.43,455.33 1242.36,455.81 1243.31,456.3 1244.26,456.78 1245.22,457.26 1246.19,457.74 1247.17,458.22 1248.16,458.7 1249.16,459.17 1250.17,459.64 1251.19,460.11 1252.22,460.58 1253.25,461.04 1254.29,461.5 1255.35,461.96 1256.41,462.42 1257.47,462.87 1258.55,463.32 1259.64,463.76 1260.73,464.2 1261.83,464.64 1262.93,465.08 1264.05,465.51 1265.17,465.94 1266.3,466.36 1267.44,466.78 1268.58,467.2 1269.73,467.61 1270.89,468.02 1272.05,468.42 1273.22,468.82 1274.39,469.22 1275.57,469.61 1276.76,469.99 1277.96,470.37 1279.15,470.75 1280.36,471.12 1281.57,471.49 1282.78,471.85 1284,472.2 1285.23,472.55 1286.46,472.9 1287.7,473.23 1288.94,473.57 1290.18,473.89 1291.43,474.22 1292.68,474.53 1293.94,474.84 1295.2,475.14 1296.47,475.44 1297.73,475.73 1299.01,476.01 1300.28,476.29 1301.56,476.56 1302.85,476.83 1304.13,477.08 1305.42,477.33 1306.71,477.57 1308.01,477.81 1309.3,478.04 1310.6,478.26 1311.9,478.47 1313.21,478.68 1314.51,478.88 1315.82,479.07 1317.13,479.25 1318.44,479.42 1319.75,479.59 1321.07,479.75 1322.38,479.9 1323.7,480.04 1325.02,480.17 1326.34,480.3 1327.66,480.42 1328.98,480.52 1330.3,480.62 1331.62,480.71 1332.94,480.79 1334.26,480.86 1335.58,480.92 1336.9,480.98 1338.22,481.02 1339.55,481.05 1340.87,481.08 1342.2,481.09 1343.53,481.1 1344.86,481.09 1346.2,481.08 1347.54,481.05 1348.88,481.02 1350.23,480.97 1351.58,480.92 1352.94,480.85 1354.3,480.77 1355.67,480.69 1357.05,480.59 1358.43,480.48 1359.82,480.36 1361.21,480.23 1362.62,480.09 1364.03,479.94 1365.45,479.77 1366.88,479.6 1368.32,479.41 1369.77,479.21 1371.23,479.01 1372.7,478.79 1374.18,478.55 1375.67,478.31 1377.18,478.05 1378.69,477.79 1380.22,477.51 1381.77,477.21 1383.32,476.91 1384.89,476.59 1386.47,476.27 1388.07,475.92 1389.68,475.57 1391.31,475.2 1392.95,474.83 1394.61,474.43 1396.29,474.03 1397.98,473.61 1399.69,473.18 1401.42,472.74 1403.16,472.28 1404.93,471.81 1406.71,471.33 1408.51,470.83 1410.33,470.32 1412.17,469.79 1414.04,469.26 1415.92,468.7 1417.82,468.14 1419.75,467.56 1421.69,466.96 1423.66,466.36 1425.65,465.73 1427.67,465.1 1429.71,464.44 1431.77,463.78 1433.85,463.1 1435.97,462.4 1438.1,461.69 1440.26,460.97 1442.45,460.23 1444.66,459.47 1446.9,458.7 1449.17,457.92 1451.46,457.12 1453.79,456.3 1456.14,455.47 1458.51,454.63 1460.92,453.76 1463.35,452.89 1465.8,452 1468.28,451.09 1470.79,450.17 1473.32,449.24 1475.87,448.29 1478.45,447.32 1481.05,446.34 1483.68,445.35 1486.33,444.34 1489,443.32 1491.69,442.29 1494.41,441.24 1497.14,440.18 1499.9,439.11 1502.68,438.02 1505.47,436.92 1508.29,435.8 1511.13,434.68 1513.98,433.54 1516.86,432.38 1519.75,431.22 1522.66,430.04 1525.58,428.85 1528.53,427.65 1531.49,426.43 1534.46,425.2 1537.46,423.96 1540.46,422.71 1543.48,421.45 1546.52,420.17 1549.57,418.89 1552.64,417.59 1555.72,416.28 1558.81,414.96 1561.91,413.63 1565.03,412.28 1568.16,410.93 1571.3,409.57 1574.45,408.19 1577.61,406.8 1580.78,405.41 1583.96,404 1587.15,402.58 1590.35,401.16 1593.56,399.72 1596.78,398.27 1600.01,396.81 1603.24,395.35 1606.48,393.87 1609.73,392.38 1612.98,390.89 1616.24,389.38 1619.5,387.87 1622.77,386.34 1626.05,384.81 1629.33,383.27 1632.61,381.72 1635.9,380.16 1639.19,378.6 1642.48,377.02 1645.78,375.44 1649.08,373.84 1652.38,372.24 1655.68,370.64 1658.98,369.02 1662.28,367.4 1665.59,365.76 1668.89,364.13 1672.19,362.48 1675.49,360.83 1678.79,359.17 1682.08,357.51 1685.37,355.84 1688.66,354.16 1691.94,352.49 1695.22,350.81 1698.49,349.12 1701.75,347.44 1705.01,345.75 1708.25,344.06 1711.49,342.37 1714.72,340.68 1717.94,338.99 1721.15,337.3 1724.35,335.61 1727.53,333.92 1730.7,332.23 1733.86,330.55 1737.01,328.86 1740.14,327.18 1743.25,325.51 1746.35,323.84 1749.43,322.17 1752.5,320.51 1755.54,318.86 1758.57,317.21 1761.58,315.56 1764.57,313.93 1767.54,312.3 1770.48,310.68 1773.41,309.07 1776.31,307.47 1779.19,305.87 1782.05,304.29 1784.88,302.72 1787.69,301.16 1790.47,299.61 1793.22,298.07 1795.95,296.54 1798.65,295.03 1801.32,293.53 1803.97,292.05 1806.58,290.57 1809.16,289.12 1811.71,287.68 1814.23,286.25 1816.72,284.84 1819.18,283.45 1821.6,282.07 1823.99,280.72 1826.34,279.38 1828.66,278.05 1830.94,276.75 1833.18,275.47 1835.39,274.21 1837.56,272.97 1839.69,271.75 1841.78,270.55 1843.83,269.37 1845.84,268.22 1847.81,267.09 1849.74,265.98 1851.62,264.89 1853.46,263.83 1855.26,262.8 1857.01,261.79 1858.72,260.81 1860.38,259.85 1861.99,258.92 1863.56,258.01 1865.09,257.14 1866.57,256.28 1868.01,255.45 1869.4,254.65 1870.75,253.87 1872.06,253.12 1873.33,252.39 1874.56,251.68 1875.75,250.99 1876.9,250.33 1878.01,249.69 1879.09,249.07 1880.13,248.47 1881.13,247.9 1882.09,247.34 1883.02,246.8 1883.92,246.29 1884.78,245.79 1885.61,245.31 1886.41,244.85 1887.17,244.41 1887.9,243.99 1888.61,243.59 1889.28,243.2 1889.92,242.83 1890.54,242.47 1891.12,242.14 1891.68,241.81 1892.22,241.51 1892.72,241.21 1893.21,240.94 1893.66,240.67 1894.1,240.42 1894.51,240.19 1894.89,239.97 1895.26,239.76 1895.6,239.56 1895.92,239.37 1896.23,239.2 1896.51,239.03 1896.77,238.88 1897.02,238.74 1897.25,238.61 1897.46,238.49 1897.65,238.38 1897.83,238.27 1898,238.18 1898.15,238.09 1898.28,238.01 1898.41,237.94 1898.52,237.88 1898.62,237.82 1898.71,237.77 1898.78,237.72 1898.85,237.68 1898.91,237.65 1898.96,237.62 1899.01,237.6 1899.04,237.57 1899.07,237.56 1899.09,237.54 1899.11,237.53 1899.13,237.53 1899.14,237.52 1899.14,237.52 1899.15,237.51 1899.15,237.51 1899.15,237.51 1899.15,237.51" fill="none" stroke="#000" stroke-width="3" stroke-dasharray="10.8 5.3 2.7 5.3 2.7 6.5"/>
<circle cx="163.4" cy="477.56" r="7.9" class="mk"/>
<circle cx="302.38" cy="523.49" r="7.9" class="mk"/>
<circle cx="441.36" cy="416.15" r="7.9" class="mk"/>
<circle cx="580.34" cy="344.11" r="7.9" class="mk"/>
<circle cx="719.32" cy="538" r="7.9" class="mk"/>
<circle cx="858.3" cy="551.05" r="7.9" class="mk"/>
<path d="M163.4 456.55L171.6 470.55L155.2 470.55Z" class="mk"/>
<path d="M302.38 370.49L310.58 384.49L294.18 384.49Z" class="mk"/>
<path d="M441.36 328.43L449.56 342.43L433.16 342.43Z" class="mk"/>
<path d="M580.34 500.07L588.54 514.07L572.14 514.07Z" class="mk"/>
<path d="M719.32 498.62L727.52 512.62L711.12 512.62Z" class="mk"/>
<path d="M858.3 516.99L866.5 530.99L850.1 530.99Z" class="mk"/>
<path d="M163.4 414.89L172.7 423.89L163.4 432.89L154.1 423.89Z" class="mk"/>
<path d="M302.38 331.24L311.68 340.24L302.38 349.24L293.08 340.24Z" class="mk"/>
<path d="M441.36 204.08L450.66 213.08L441.36 222.08L432.06 213.08Z" class="mk"/>
<path d="M580.34 573.96L589.64 582.96L580.34 591.96L571.04 582.96Z" class="mk"/>
<path d="M719.32 306.59L728.62 315.59L719.32 324.59L710.02 315.59Z" class="mk"/>
<path d="M858.3 457.92L867.6 466.92L858.3 475.92L849 466.92Z" class="mk"/>
<circle cx="1192.8" cy="503.58" r="7.9" class="mk"/>
<circle cx="1239.89" cy="436.51" r="7.9" class="mk"/>
<circle cx="1334.07" cy="512.53" r="7.9" class="mk"/>
<circle cx="1428.25" cy="575.51" r="7.9" class="mk"/>
<circle cx="1663.7" cy="518.49" r="7.9" class="mk"/>
<circle cx="1899.15" cy="494.64" r="7.9" class="mk"/>
<path d="M1192.8 476.3L1201 490.3L1184.6 490.3Z" class="mk"/>
<path d="M1239.89 508.35L1248.09 522.35L1231.69 522.35Z" class="mk"/>
<path d="M1334.07 461.39L1342.27 475.39L1325.87 475.39Z" class="mk"/>
<path d="M1428.25 429.34L1436.45 443.34L1420.05 443.34Z" class="mk"/>
<path d="M1663.7 444.99L1671.9 458.99L1655.5 458.99Z" class="mk"/>
<path d="M1899.15 438.29L1907.35 452.29L1890.95 452.29Z" class="mk"/>
<path d="M1192.8 411.86L1202.1 420.86L1192.8 429.86L1183.5 420.86Z" class="mk"/>
<path d="M1239.89 451.36L1249.19 460.36L1239.89 469.36L1230.59 460.36Z" class="mk"/>
<path d="M1334.07 479.68L1343.37 488.68L1334.07 497.68L1324.77 488.68Z" class="mk"/>
<path d="M1428.25 461.05L1437.55 470.05L1428.25 479.05L1418.95 470.05Z" class="mk"/>
<path d="M1663.7 364.16L1673 373.16L1663.7 382.16L1654.4 373.16Z" class="mk"/>
<path d="M1899.15 228.51L1908.45 237.51L1899.15 246.51L1889.85 237.51Z" class="mk"/>
<path d="M163.4 468.06V424.37M156.6 424.37H170.2M163.4 487.06V530.74M156.6 530.74H170.2M302.38 513.99V452.42M295.58 452.42H309.18M302.38 532.99V594.56M295.58 594.56H309.18M441.36 406.65V258.05M434.56 258.05H448.16M441.36 425.65V574.26M434.56 574.26H448.16M580.34 334.61V251.76M573.54 251.76H587.14M580.34 353.61V436.46M573.54 436.46H587.14M851.5 542.35H865.1M851.5 559.75H865.1M163.4 456.45V412.29M156.6 412.29H170.2M163.4 475.45V519.62M156.6 519.62H170.2M302.38 370.39V356.68M295.58 356.68H309.18M302.38 389.39V403.1M295.58 403.1H309.18M441.36 328.33V231.46M434.56 231.46H448.16M441.36 347.33V444.2M434.56 444.2H448.16M580.34 499.97V431.63M573.54 431.63H587.14M580.34 518.97V590.7M719.32 498.52V494.96M712.52 494.96H726.12M719.32 517.52V521.07M712.52 521.07H726.12M851.5 517.69H865.1M851.5 535.09H865.1M163.4 414.39V406.97M156.6 406.97H170.2M163.4 433.39V440.81M156.6 440.81H170.2M302.38 330.74V226.14M295.58 226.14H309.18M302.38 349.74V454.35M295.58 454.35H309.18M441.36 203.58V78.67M434.56 78.67H448.16M441.36 222.58V347.5M434.56 347.5H448.16M580.34 573.46V562.17M573.54 562.17H587.14M580.34 592.46V603.75M573.54 603.75H587.14M719.32 306.09V194.71M712.52 194.71H726.12M719.32 325.09V436.46M712.52 436.46H726.12M858.3 457.42V455.32M851.5 455.32H865.1M858.3 476.42V478.52M851.5 478.52H865.1" stroke="#444" stroke-width="2" fill="none"/>
<path d="M1192.8 494.08V421.6M1186 421.6H1199.6M1192.8 513.08V585.57M1186 585.57H1199.6M1239.89 427.01V394.77M1233.09 394.77H1246.69M1239.89 446.01V478.24M1233.09 478.24H1246.69M1334.07 503.03V480.48M1327.27 480.48H1340.87M1334.07 522.03V544.58M1327.27 544.58H1340.87M1428.25 566.01V548.68M1421.45 548.68H1435.05M1428.25 585.01V610.91M1421.45 610.91H1435.05M1663.7 508.99V418.32M1656.9 418.32H1670.5M1663.7 527.99V618.66M1656.9 618.66H1670.5M1899.15 485.14V477.5M1892.35 477.5H1905.95M1899.15 504.14V511.78M1892.35 511.78H1905.95M1192.8 476.2V402.97M1186 402.97H1199.6M1192.8 495.2V568.43M1186 568.43H1199.6M1239.89 508.25V436.51M1233.09 436.51H1246.69M1239.89 527.25V598.98M1233.09 598.98H1246.69M1334.07 461.29V458.87M1327.27 458.87H1340.87M1334.07 480.29V482.72M1327.27 482.72H1340.87M1428.25 429.24V390.3M1421.45 390.3H1435.05M1428.25 448.24V540.1M1421.45 540.1H1435.05M1663.7 444.89V428.31M1656.9 428.31H1670.5M1663.7 463.89V527.43M1656.9 527.43H1670.5M1899.15 438.19V366.75M1892.35 366.75H1905.95M1899.15 457.19V528.63M1892.35 528.63H1905.95M1192.8 411.36V394.77M1186 394.77H1199.6M1192.8 430.36V446.94M1186 446.94H1199.6M1239.89 450.86V424.58M1233.09 424.58H1246.69M1239.89 469.86V496.13M1233.09 496.13H1246.69M1334.07 479.18V430.54M1327.27 430.54H1340.87M1334.07 498.18V544.58M1327.27 544.58H1340.87M1428.25 460.55V186.83M1421.45 186.83H1435.05M1428.25 479.55V691.4M1663.7 363.66V318.38M1656.9 318.38H1670.5M1663.7 382.66V427.94M1656.9 427.94H1670.5M1899.15 228.01V31.36M1892.35 31.36H1905.95M1899.15 247.01V443.66M1892.35 443.66H1905.95" stroke="#444" stroke-width="2" fill="none"/>
<rect x="94.3" y="19.2" width="833.1" height="676.7" fill="none" stroke="#111" stroke-width="2.4" stroke-linejoin="round"/>
<path d="M163.4 695.9v-13.3M163.4 19.2v13.3M302.38 695.9v-13.3M302.38 19.2v13.3M441.36 695.9v-13.3M441.36 19.2v13.3M580.34 695.9v-13.3M580.34 19.2v13.3M719.32 695.9v-13.3M719.32 19.2v13.3M858.3 695.9v-13.3M858.3 19.2v13.3M107.81 695.9v-7.3M135.6 695.9v-7.3M191.2 695.9v-7.3M218.99 695.9v-7.3M246.79 695.9v-7.3M274.58 695.9v-7.3M330.18 695.9v-7.3M357.97 695.9v-7.3M385.77 695.9v-7.3M413.56 695.9v-7.3M469.16 695.9v-7.3M496.95 695.9v-7.3M524.75 695.9v-7.3M552.54 695.9v-7.3M608.14 695.9v-7.3M635.93 695.9v-7.3M663.73 695.9v-7.3M691.52 695.9v-7.3M747.12 695.9v-7.3M774.91 695.9v-7.3M802.71 695.9v-7.3M830.5 695.9v-7.3M886.1 695.9v-7.3M913.89 695.9v-7.3M94.3 696.1h13.3M927.4 696.1h-13.3M94.3 599.4h13.3M927.4 599.4h-13.3M94.3 502.7h13.3M927.4 502.7h-13.3M94.3 406h13.3M927.4 406h-13.3M94.3 309.3h13.3M927.4 309.3h-13.3M94.3 212.6h13.3M927.4 212.6h-13.3M94.3 115.9h13.3M927.4 115.9h-13.3M94.3 19.2h13.3M927.4 19.2h-13.3M94.3 676.76h7.3M94.3 657.42h7.3M94.3 638.08h7.3M94.3 618.74h7.3M94.3 580.06h7.3M94.3 560.72h7.3M94.3 541.38h7.3M94.3 522.04h7.3M94.3 483.36h7.3M94.3 464.02h7.3M94.3 444.68h7.3M94.3 425.34h7.3M94.3 386.66h7.3M94.3 367.32h7.3M94.3 347.98h7.3M94.3 328.64h7.3M94.3 289.96h7.3M94.3 270.62h7.3M94.3 251.28h7.3M94.3 231.94h7.3M94.3 193.26h7.3M94.3 173.92h7.3M94.3 154.58h7.3M94.3 135.24h7.3M94.3 96.56h7.3M94.3 77.22h7.3M94.3 57.88h7.3M94.3 38.54h7.3" stroke="#111" stroke-width="2.2" fill="none"/>
<text transform="translate(163.4 733.5) scale(1 1.03)" text-anchor="middle" class="tk">0</text>
<text transform="translate(302.38 733.5) scale(1 1.03)" text-anchor="middle" class="tk">1</text>
<text transform="translate(441.36 733.5) scale(1 1.03)" text-anchor="middle" class="tk">2</text>
<text transform="translate(580.34 733.5) scale(1 1.03)" text-anchor="middle" class="tk">3</text>
<text transform="translate(719.32 733.5) scale(1 1.03)" text-anchor="middle" class="tk">4</text>
<text transform="translate(858.3 733.5) scale(1 1.03)" text-anchor="middle" class="tk">5</text>
<text transform="translate(80.3 705.3) scale(1 1.03)" text-anchor="end" class="tk">20</text>
<text transform="translate(80.3 608.6) scale(1 1.03)" text-anchor="end" class="tk">22</text>
<text transform="translate(80.3 511.9) scale(1 1.03)" text-anchor="end" class="tk">24</text>
<text transform="translate(80.3 415.2) scale(1 1.03)" text-anchor="end" class="tk">26</text>
<text transform="translate(80.3 318.5) scale(1 1.03)" text-anchor="end" class="tk">28</text>
<text transform="translate(80.3 221.8) scale(1 1.03)" text-anchor="end" class="tk">30</text>
<text transform="translate(80.3 125.1) scale(1 1.03)" text-anchor="end" class="tk">32</text>
<text transform="translate(80.3 28.4) scale(1 1.03)" text-anchor="end" class="tk">34</text>
<rect x="1169.5" y="20.6" width="823.6" height="670.8" fill="none" stroke="#111" stroke-width="2.4" stroke-linejoin="round"/>
<path d="M1192.8 691.4v-13.3M1192.8 20.6v13.3M1286.98 691.4v-13.3M1286.98 20.6v13.3M1381.16 691.4v-13.3M1381.16 20.6v13.3M1475.34 691.4v-13.3M1475.34 20.6v13.3M1569.52 691.4v-13.3M1569.52 20.6v13.3M1663.7 691.4v-13.3M1663.7 20.6v13.3M1757.88 691.4v-13.3M1757.88 20.6v13.3M1852.06 691.4v-13.3M1852.06 20.6v13.3M1946.24 691.4v-13.3M1946.24 20.6v13.3M1173.96 691.4v-7.3M1211.64 691.4v-7.3M1230.47 691.4v-7.3M1249.31 691.4v-7.3M1268.14 691.4v-7.3M1305.82 691.4v-7.3M1324.65 691.4v-7.3M1343.49 691.4v-7.3M1362.32 691.4v-7.3M1400 691.4v-7.3M1418.83 691.4v-7.3M1437.67 691.4v-7.3M1456.5 691.4v-7.3M1494.18 691.4v-7.3M1513.01 691.4v-7.3M1531.85 691.4v-7.3M1550.68 691.4v-7.3M1588.36 691.4v-7.3M1607.19 691.4v-7.3M1626.03 691.4v-7.3M1644.86 691.4v-7.3M1682.54 691.4v-7.3M1701.37 691.4v-7.3M1720.21 691.4v-7.3M1739.04 691.4v-7.3M1776.72 691.4v-7.3M1795.55 691.4v-7.3M1814.39 691.4v-7.3M1833.22 691.4v-7.3M1870.9 691.4v-7.3M1889.73 691.4v-7.3M1908.57 691.4v-7.3M1927.4 691.4v-7.3M1965.08 691.4v-7.3M1983.91 691.4v-7.3M1169.5 691.4h13.3M1993.1 691.4h-13.3M1169.5 616.87h13.3M1993.1 616.87h-13.3M1169.5 542.34h13.3M1993.1 542.34h-13.3M1169.5 467.81h13.3M1993.1 467.81h-13.3M1169.5 393.28h13.3M1993.1 393.28h-13.3M1169.5 318.75h13.3M1993.1 318.75h-13.3M1169.5 244.22h13.3M1993.1 244.22h-13.3M1169.5 169.69h13.3M1993.1 169.69h-13.3M1169.5 95.16h13.3M1993.1 95.16h-13.3M1169.5 20.63h13.3M1993.1 20.63h-13.3M1169.5 676.49h7.3M1169.5 661.59h7.3M1169.5 646.68h7.3M1169.5 631.78h7.3M1169.5 601.96h7.3M1169.5 587.06h7.3M1169.5 572.15h7.3M1169.5 557.25h7.3M1169.5 527.43h7.3M1169.5 512.53h7.3M1169.5 497.62h7.3M1169.5 482.72h7.3M1169.5 452.9h7.3M1169.5 438h7.3M1169.5 423.09h7.3M1169.5 408.19h7.3M1169.5 378.37h7.3M1169.5 363.47h7.3M1169.5 348.56h7.3M1169.5 333.66h7.3M1169.5 303.84h7.3M1169.5 288.94h7.3M1169.5 274.03h7.3M1169.5 259.13h7.3M1169.5 229.31h7.3M1169.5 214.41h7.3M1169.5 199.5h7.3M1169.5 184.6h7.3M1169.5 154.78h7.3M1169.5 139.88h7.3M1169.5 124.97h7.3M1169.5 110.07h7.3M1169.5 80.25h7.3M1169.5 65.35h7.3M1169.5 50.44h7.3M1169.5 35.54h7.3" stroke="#111" stroke-width="2.2" fill="none"/>
<text transform="translate(1192.8 728.6) scale(1 1.03)" text-anchor="middle" class="tk">0</text>
<text transform="translate(1286.98 728.6) scale(1 1.03)" text-anchor="middle" class="tk">2</text>
<text transform="translate(1381.16 728.6) scale(1 1.03)" text-anchor="middle" class="tk">4</text>
<text transform="translate(1475.34 728.6) scale(1 1.03)" text-anchor="middle" class="tk">6</text>
<text transform="translate(1569.52 728.6) scale(1 1.03)" text-anchor="middle" class="tk">8</text>
<text transform="translate(1663.7 728.6) scale(1 1.03)" text-anchor="middle" class="tk">10</text>
<text transform="translate(1757.88 728.6) scale(1 1.03)" text-anchor="middle" class="tk">12</text>
<text transform="translate(1852.06 728.6) scale(1 1.03)" text-anchor="middle" class="tk">14</text>
<text transform="translate(1946.24 728.6) scale(1 1.03)" text-anchor="middle" class="tk">16</text>
<text transform="translate(1155.6 700.9) scale(1 1.03)" text-anchor="end" class="tk">22</text>
<text transform="translate(1155.6 626.37) scale(1 1.03)" text-anchor="end" class="tk">23</text>
<text transform="translate(1155.6 551.84) scale(1 1.03)" text-anchor="end" class="tk">24</text>
<text transform="translate(1155.6 477.31) scale(1 1.03)" text-anchor="end" class="tk">25</text>
<text transform="translate(1155.6 402.78) scale(1 1.03)" text-anchor="end" class="tk">26</text>
<text transform="translate(1155.6 328.25) scale(1 1.03)" text-anchor="end" class="tk">27</text>
<text transform="translate(1155.6 253.72) scale(1 1.03)" text-anchor="end" class="tk">28</text>
<text transform="translate(1155.6 179.19) scale(1 1.03)" text-anchor="end" class="tk">29</text>
<text transform="translate(1155.6 104.66) scale(1 1.03)" text-anchor="end" class="tk">30</text>
<text transform="translate(1155.6 30.13) scale(1 1.03)" text-anchor="end" class="tk">31</text>
<rect x="638.4" y="565.1" width="220.2" height="110.1" fill="#fff" stroke="#333" stroke-width="2.2" stroke-linejoin="round"/>
<path d="M644.3 584.5H700.2" stroke="#000" stroke-width="3"/>
<circle cx="672.2" cy="584.5" r="7.9" class="mk"/>
<text transform="translate(706.9 593.1) scale(1 1.03)" class="lg">50 mm/min</text>
<path d="M644.3 618.3h10.6M689.5 618.3H700.2" stroke="#000" stroke-width="3"/>
<path d="M672.2 608.9L680.4 622.9L664 622.9Z" class="mk"/>
<text transform="translate(706.9 626.9) scale(1 1.03)" class="lg">100 mm/min</text>
<path d="M644.3 652h10.2M661.2 652h3M680.7 652h7M694.8 652h2.8" stroke="#000" stroke-width="3"/>
<path d="M672.2 643L681.5 652L672.2 661L662.9 652Z" class="mk"/>
<text transform="translate(706.9 660.6) scale(1 1.03)" class="lg">200 mm/min</text>
<rect x="1690.2" y="547.3" width="221.2" height="108.5" fill="#fff" stroke="#333" stroke-width="2.2" stroke-linejoin="round"/>
<path d="M1698.4 570H1754.3" stroke="#000" stroke-width="3"/>
<circle cx="1726.4" cy="570" r="7.9" class="mk"/>
<text transform="translate(1761 578.3) scale(1 1.03)" class="lg">50 mm/min</text>
<path d="M1698.4 603.7h10.6M1743.6 603.7H1754.3" stroke="#000" stroke-width="3"/>
<path d="M1726.4 594.3L1734.6 608.3L1718.2 608.3Z" class="mk"/>
<text transform="translate(1761 612) scale(1 1.03)" class="lg">100 mm/min</text>
<path d="M1698.4 636.3h10.2M1715.4 636.3h3M1734.9 636.3h7M1749 636.3h2.8" stroke="#000" stroke-width="3"/>
<path d="M1726.4 627.3L1735.7 636.3L1726.4 645.3L1717.1 636.3Z" class="mk"/>
<text transform="translate(1761 644.6) scale(1 1.03)" class="lg">200 mm/min</text>
<text transform="translate(123 63.3) scale(1 1.04)" class="pl">NC</text>
<text transform="translate(1202 63.6) scale(1 1.04)" class="pl">CC</text>
<text transform="translate(510.8 776.6) scale(1 1.02)" text-anchor="middle" class="ti">Concentration (w. %)</text>
<text transform="translate(1581.5 773.8) scale(1 1.02)" text-anchor="middle" class="ti">Concentration (w. %)</text>
<text transform="translate(32.5 320.4) rotate(-90) scale(1 1.02)" text-anchor="middle" class="ti">Upper Yield (MPa)</text>
<text transform="translate(1102.5 334.4) rotate(-90) scale(1 1.02)" text-anchor="middle" class="ti">Upper Yield (MPa)</text>
</svg>
</body></html>
